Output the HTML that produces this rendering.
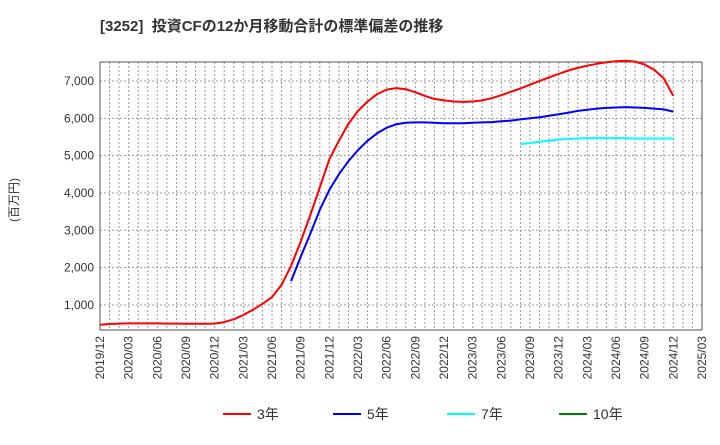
<!DOCTYPE html>
<html><head><meta charset="utf-8"><style>
body{margin:0;background:#fff;font-family:"Liberation Sans","Noto Sans CJK JP",sans-serif}
</style></head><body>
<svg id="c" width="720" height="440" xmlns="http://www.w3.org/2000/svg" font-family="Liberation Sans, Noto Sans CJK JP, sans-serif">
<text x="100" y="31" font-size="15" font-weight="bold" fill="#333">[3252]&#160; 投資CFの12か月移動合計の標準偏差の推移</text>
<text transform="translate(18,200) rotate(-90)" text-anchor="middle" font-size="12" fill="#333">(百万円)</text>
<g id="grid"></g><g id="axes"></g><g id="series"></g><g id="legend"></g>
</svg>
<script>
const xLabels=["2019/12","2020/03","2020/06","2020/09","2020/12","2021/03","2021/06","2021/09","2021/12","2022/03","2022/06","2022/09","2022/12","2023/03","2023/06","2023/09","2023/12","2024/03","2024/06","2024/09","2024/12","2025/03"];
const yTicks=[1000,2000,3000,4000,5000,6000,7000];
const s3=[470,490,500,505,505,505,505,500,500,495,495,495,500,540,615,730,870,1030,1210,1540,2050,2700,3400,4150,4900,5400,5850,6200,6450,6650,6770,6810,6780,6700,6600,6520,6480,6450,6440,6450,6480,6540,6620,6710,6800,6900,7000,7100,7190,7280,7350,7410,7460,7500,7530,7540,7520,7440,7300,7070,6600];
const s3Start=0;
const s5=[1640,2290,2900,3550,4080,4500,4850,5150,5400,5600,5750,5840,5880,5890,5890,5880,5870,5870,5870,5880,5890,5900,5920,5940,5970,6000,6030,6070,6110,6150,6200,6230,6260,6280,6290,6300,6290,6280,6260,6240,6180];
const s5Start=20;
const s7=[5310,5340,5370,5400,5430,5450,5460,5470,5470,5470,5470,5470,5460,5460,5460,5460,5460];
const s7Start=44;
const L=100,R=702,T=62,B=330,NM=63;
function x(m){return L+m*(R-L)/NM;}
function y(v){return 342.3-v*0.03733;}
const NS="http://www.w3.org/2000/svg";
function mk(t,a,p){const e=document.createElementNS(NS,t);for(const k in a)e.setAttribute(k,a[k]);p.appendChild(e);return e;}
const grid=document.getElementById('grid'),axes=document.getElementById('axes'),ser=document.getElementById('series'),leg=document.getElementById('legend');
for(let m=1;m<NM;m++){const g=mk('line',{x1:x(m),x2:x(m),y1:T,y2:B,stroke:'#999','stroke-dasharray':'2,2','stroke-width':1},grid);

}
yTicks.forEach(v=>{const g=mk('line',{x1:L,x2:R,y1:y(v),y2:y(v),stroke:'#999','stroke-dasharray':'2,2','stroke-width':1},grid);


const t=mk('text',{x:L-6,y:y(v)+4,'text-anchor':'end','font-size':12,fill:'#333'},axes);t.textContent=v.toLocaleString('en-US');

});
const box=mk('rect',{x:L,y:T,width:R-L,height:B-T,fill:'none',stroke:'#555','stroke-width':1},axes);


xLabels.forEach((l,i)=>{const px=x(i*3);const t=mk('text',{transform:`translate(${px+4},${B+6}) rotate(-90)`,'text-anchor':'end','font-size':12,fill:'#333'},axes);t.textContent=l;

});
function line(d,st,col,name){const pts=d.map((v,i)=>x(st+i).toFixed(1)+','+y(v).toFixed(1)).join(' ');const p=mk('polyline',{points:pts,fill:'none',stroke:col,'stroke-width':2,'stroke-linejoin':'round'},ser);

}
line(s3,s3Start,'#ff0000','series-3yr');
line(s5,s5Start,'#0000ff','series-5yr');
line(s7,s7Start,'#00ffff','series-7yr');
const legItems=[["3年","#ff0000",223],["5年","#0000ff",333],["7年","#00ffff",447],["10年","#008000",559]];
legItems.forEach(([lab,col,lx])=>{const g=mk('g',{},leg);


mk('line',{x1:lx,x2:lx+28,y1:414,y2:414,stroke:col,'stroke-width':2},g);
const t=mk('text',{x:lx+34,y:419,'font-size':14,fill:'#333'},g);t.textContent=lab;});
</script>
</body></html>
